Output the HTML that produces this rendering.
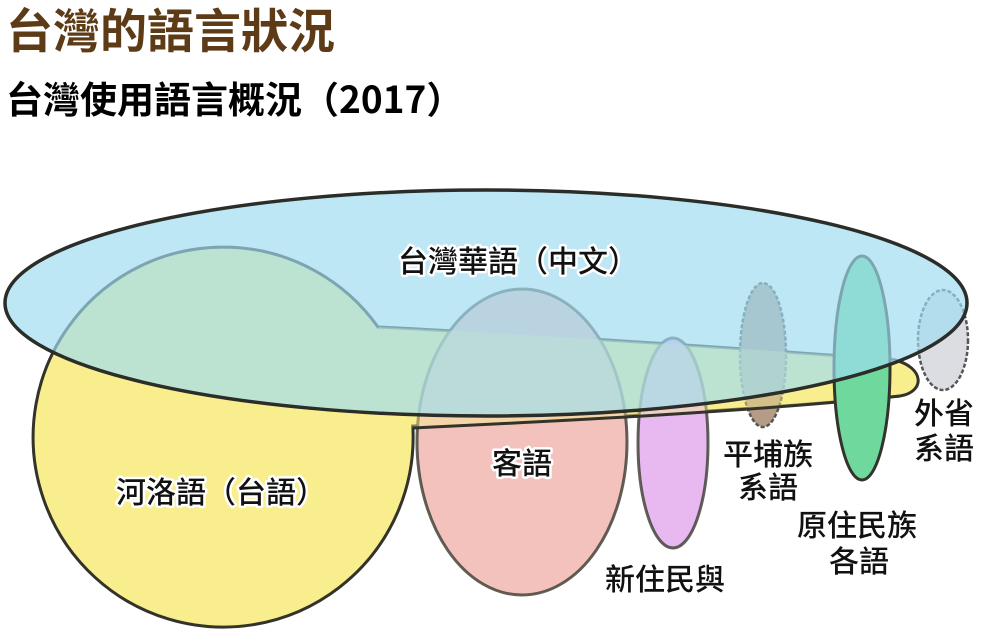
<!DOCTYPE html>
<html><head><meta charset="utf-8"><style>
html,body{margin:0;padding:0;background:#fff;width:1000px;height:634px;overflow:hidden}
svg{display:block}
text{font-family:"Noto Sans CJK TC","Liberation Sans",sans-serif}
.l{font-size:30px;fill:#111;stroke:#fff;stroke-width:5px;paint-order:stroke;stroke-linejoin:round;font-weight:500}
</style></head><body>
<svg width="1000" height="634" viewBox="0 0 1000 634">
<text x="6" y="48" style="font-size:47px;font-weight:bold;fill:#5e3b17">台灣的語言狀況</text>
<text x="6" y="113" style="font-size:37px;font-weight:bold;fill:#000">台灣使用語言概況（2017）</text>
<path d="M378,327 A190,190 0 1 0 413,430 L413,426 C560,420 760,410 900,396 C925,392 925,368 895,360 C700,345 500,333 378,327 Z" fill="#f8ee8e" stroke="#33332a" stroke-width="3"/>
<ellipse cx="522" cy="442" rx="105" ry="153" fill="#f3c2bd" stroke="#3a3a30" stroke-opacity="0.8" stroke-width="3"/>
<ellipse cx="673" cy="443" rx="35" ry="105" fill="#e8b8f0" stroke="#3a3a30" stroke-opacity="0.8" stroke-width="3"/>
<ellipse cx="763" cy="355" rx="23" ry="72" fill="#b59c86" stroke="#555" stroke-width="2.5" stroke-dasharray="4 2"/>
<!-- translucent yellow over pink/purple tops -->
<path d="M378,327 C500,333 700,345 895,360 L900,396 C760,410 560,420 413,428 Z" fill="#f8ee8e" fill-opacity="0.45"/>
<path d="M413,428 C560,421 760,411 900,396" fill="none" stroke="#33332a" stroke-width="3"/>
<ellipse cx="862" cy="368" rx="28" ry="112" fill="#6fd89c" stroke="#33332a" stroke-width="3"/>
<ellipse cx="943" cy="340" rx="25" ry="50" fill="#dcdde3" stroke="#555" stroke-width="2.5" stroke-dasharray="4 2"/>
<ellipse cx="486" cy="303" rx="481" ry="113" fill="#9fdcf2" fill-opacity="0.68" stroke="#2a2d28" stroke-width="3.5"/>
<text class="l" x="398" y="272">台灣華語（中文）</text>
<text class="l" x="116" y="503">河洛語（台語）</text>
<text class="l" x="492" y="474">客語</text>
<text class="l" x="605" y="590">新住民與</text>
<text class="l" x="723" y="465">平埔族</text>
<text class="l" x="738" y="498">系語</text>
<text class="l" x="797" y="536">原住民族</text>
<text class="l" x="829" y="572">各語</text>
<text class="l" x="914" y="424">外省</text>
<text class="l" x="914" y="459">系語</text>
</svg>
</body></html>
